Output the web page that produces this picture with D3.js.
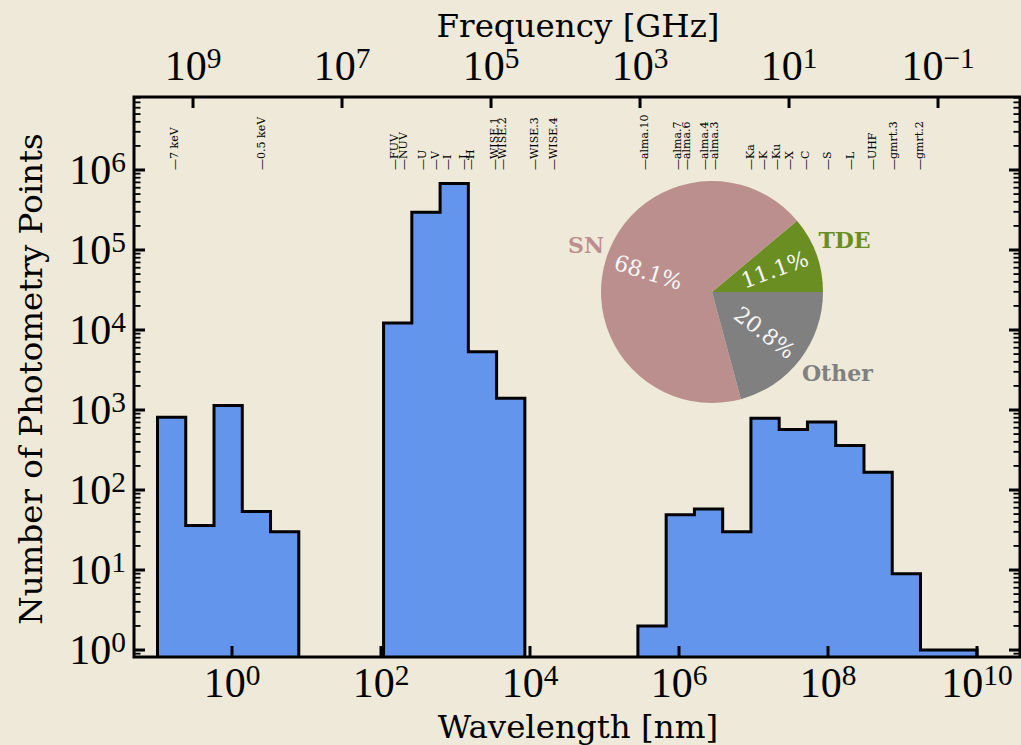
<!DOCTYPE html>
<html>
<head>
<meta charset="utf-8">
<script src="https://cdn.jsdelivr.net/npm/d3@7"></script>
<style>
  html, body { margin: 0; padding: 0; background: #eee9d8; }
  svg { display: block; }
</style>
</head>
<body>
<svg id="chart" width="1021" height="745"></svg>
<script>
// ---------------- DATA ----------------
// Histogram: 29 log-spaced bins from 10^-1 to 10^10 nm
const binLogMin = -1;
const binLogMax = 10;
const binCounts = [810, 36, 1140, 54, 30, 0, 0, 0, 12200, 296000, 680000, 5340, 1400,
                   0, 0, 0, 0, 2, 49, 58, 30, 790, 570, 710, 360, 167, 9, 1, 1];

// Band markers (wavelength in nm)
const bandNames = ["7 keV", "0.5 keV", "FUV", "NUV", "U", "V", "I", "J", "H",
                   "WISE.1", "WISE.2", "WISE.3", "WISE.4",
                   "alma.10", "alma.7", "alma.6", "alma.4", "alma.3",
                   "Ka", "K", "Ku", "X", "C", "S", "L", "UHF", "gmrt.3", "gmrt.2"];
const bandWavelengths = [0.168, 2.5, 154, 204, 363, 547, 777, 1274, 1600,
                         3390, 4300, 11700, 21000,
                         3.5e5, 9.5e5, 1.27e6, 2.23e6, 3.04e6,
                         9.16e6, 1.36e7, 2.05e7, 3.03e7, 5.07e7, 9.9e7, 2.02e8, 3.98e8, 7.53e8, 1.68e9];

// Pie
const pieLabels = ["TDE", "SN", "Other"];
const pieValues = [11.1, 68.1, 20.8];
const pieColors = ["#6b8e23", "#bc8f8f", "#808080"];

// Axes
const xTickValues = [1e0, 1e2, 1e4, 1e6, 1e8, 1e10];
const freqTickValues = [1e9, 1e7, 1e5, 1e3, 1e1, 1e-1];
const yTickValues = [1e0, 1e1, 1e2, 1e3, 1e4, 1e5, 1e6];
const xLimits = [0.04838, 3.776e10];   // nm
const yLimits = [0.818, 8.17e6];
const C_NM_GHZ = 2.99792458e8; // lambda[nm] * nu[GHz]

// ---------------- LAYOUT ----------------
const svg = d3.select("#chart");
const W = 1021, H = 745;
const L = 134, R = 1020, T = 97, B = 657;
const bg = "#eee9d8";
svg.append("rect").attr("width", W).attr("height", H).attr("fill", bg);

const x = d3.scaleLog().domain(xLimits).range([L, R]);
const xf = d3.scaleLog().domain([C_NM_GHZ / xLimits[0], C_NM_GHZ / xLimits[1]]).range([L, R]);
const y = d3.scaleLog().domain(yLimits).range([B, T]);

const serif = "'DejaVu Serif', serif";
const tickFont = "'Liberation Serif', 'Times New Roman', serif";

svg.append("clipPath").attr("id", "plotclip")
  .append("rect").attr("x", L).attr("y", T).attr("width", R - L).attr("height", B - T);

// ---------------- HISTOGRAM ----------------
const nb = binCounts.length;
const edges = d3.range(nb + 1).map(i => Math.pow(10, binLogMin + (binLogMax - binLogMin) * i / nb));
const groups = [];
let cur = null;
binCounts.forEach((c, i) => {
  if (c > 0) { if (!cur) { cur = []; groups.push(cur); } cur.push(i); }
  else cur = null;
});
const below = B + 20;
const gHist = svg.append("g").attr("clip-path", "url(#plotclip)");
groups.forEach(g => {
  const pts = [];
  pts.push([x(edges[g[0]]), below]);
  g.forEach(i => {
    pts.push([x(edges[i]), y(binCounts[i])]);
    pts.push([x(edges[i + 1]), y(binCounts[i])]);
  });
  pts.push([x(edges[g[g.length - 1] + 1]), below]);
  gHist.append("path")
    .attr("d", d3.line()(pts) + "Z")
    .attr("fill", "#6495ed")
    .attr("stroke", "#000")
    .attr("stroke-width", 3)
    .attr("stroke-linejoin", "miter");
});

// ---------------- BAND LABELS ----------------
const gBands = svg.append("g");
bandNames.forEach((n, i) => {
  const bx = x(bandWavelengths[i]);
  gBands.append("text")
    .attr("transform", `translate(${bx},170) rotate(-90)`)
    .attr("dy", "0.3em")
    .attr("font-family", serif)
    .attr("font-size", 11)
    .attr("fill", "#000")
    .text("\u2014" + n);
});

// ---------------- PIE ----------------
const pcx = 712, pcy = 292, pr = 111;
const pie = d3.pie().sort(null).startAngle(Math.PI / 2).endAngle(Math.PI / 2 - 2 * Math.PI);
const arcs = pie(pieValues);
const arcGen = d3.arc().innerRadius(0).outerRadius(pr);
const gPie = svg.append("g").attr("transform", `translate(${pcx},${pcy})`);
arcs.forEach((a, i) => {
  gPie.append("path").attr("d", arcGen(a)).attr("fill", pieColors[i]);
});
arcs.forEach((a, i) => {
  const mid = (a.startAngle + a.endAngle) / 2;
  const sx = Math.sin(mid), sy = -Math.cos(mid);
  let theta = 90 - mid * 180 / Math.PI;
  theta = ((theta % 360) + 360) % 360;
  let rot = theta;
  if (theta > 90 && theta < 270) rot = theta - 180;
  gPie.append("text")
    .attr("transform", `translate(${sx * pr * 0.6},${sy * pr * 0.6}) rotate(${-rot})`)
    .attr("text-anchor", "middle")
    .attr("dy", "0.36em")
    .attr("font-family", serif)
    .attr("font-size", 22)
    .attr("fill", "#f7f7f7")
    .text(pieValues[i].toFixed(1) + "%");
  const ld = 1.02;
  gPie.append("text")
    .attr("x", sx * pr * ld)
    .attr("y", sy * pr * ld)
    .attr("text-anchor", sx > 0 ? "start" : "end")
    .attr("dy", sy < 0 ? "-0.24em" : "0.9em")
    .attr("font-family", serif)
    .attr("font-weight", "bold")
    .attr("font-size", 22)
    .attr("fill", pieColors[i])
    .text(pieLabels[i]);
});

// ---------------- AXES / TICKS ----------------
const gAx = svg.append("g");
function vtick(px, y0, len, w) {
  gAx.append("line").attr("x1", px).attr("x2", px).attr("y1", y0).attr("y2", y0 + len)
    .attr("stroke", "#000").attr("stroke-width", w);
}
function htick(py, x0, len, w) {
  gAx.append("line").attr("x1", x0).attr("x2", x0 + len).attr("y1", py).attr("y2", py)
    .attr("stroke", "#000").attr("stroke-width", w);
}
const majLen = 11, minLen = 6.5, majW = 3, minW = 1.8;

xTickValues.forEach(v => vtick(x(v), B, -majLen, majW));
freqTickValues.forEach(v => vtick(xf(v), T, majLen, majW));
yTickValues.forEach(v => { htick(y(v), L, majLen, majW); htick(y(v), R, -majLen, majW); });
const yMinor = [];
for (let e = -1; e <= 6; e++) for (let k = 2; k <= 9; k++) {
  const v = k * Math.pow(10, e);
  if (v > yLimits[0] && v < yLimits[1]) yMinor.push(v);
}
yMinor.forEach(v => { htick(y(v), L, minLen, minW); htick(y(v), R, -minLen, minW); });

gAx.append("rect").attr("x", L).attr("y", T).attr("width", R - L).attr("height", B - T)
  .attr("fill", "none").attr("stroke", "#000").attr("stroke-width", 3);

function powLabel(sel, v) {
  const e = Math.round(Math.log10(v));
  sel.append("tspan").text("10");
  sel.append("tspan").attr("dy", "-0.42em").attr("font-size", "0.7em")
    .text(e < 0 ? "\u2212" + Math.abs(e) : String(e));
}
const tickSize = 42;
xTickValues.forEach(v => {
  const t = svg.append("text").attr("x", x(v)).attr("y", 697)
    .attr("text-anchor", "middle").attr("font-family", tickFont).attr("font-size", tickSize).attr("fill", "#000");
  powLabel(t, v);
});
freqTickValues.forEach(v => {
  const t = svg.append("text").attr("x", xf(v)).attr("y", 80)
    .attr("text-anchor", "middle").attr("font-family", tickFont).attr("font-size", tickSize).attr("fill", "#000");
  powLabel(t, v);
});
yTickValues.forEach(v => {
  const t = svg.append("text").attr("x", 126).attr("y", y(v) + 14)
    .attr("text-anchor", "end").attr("font-family", tickFont).attr("font-size", tickSize).attr("fill", "#000");
  powLabel(t, v);
});

const titleSize = 32.5;
svg.append("text").attr("x", 578).attr("y", 738).attr("text-anchor", "middle")
  .attr("font-family", serif).attr("font-size", titleSize).attr("fill", "#000").text("Wavelength [nm]");
svg.append("text").attr("x", 578).attr("y", 37).attr("text-anchor", "middle")
  .attr("font-family", serif).attr("font-size", titleSize).attr("fill", "#000").text("Frequency [GHz]");
svg.append("text").attr("transform", "translate(42,379) rotate(-90)").attr("text-anchor", "middle")
  .attr("font-family", serif).attr("font-size", titleSize).attr("fill", "#000").text("Number of Photometry Points");
</script>
</body>
</html>
